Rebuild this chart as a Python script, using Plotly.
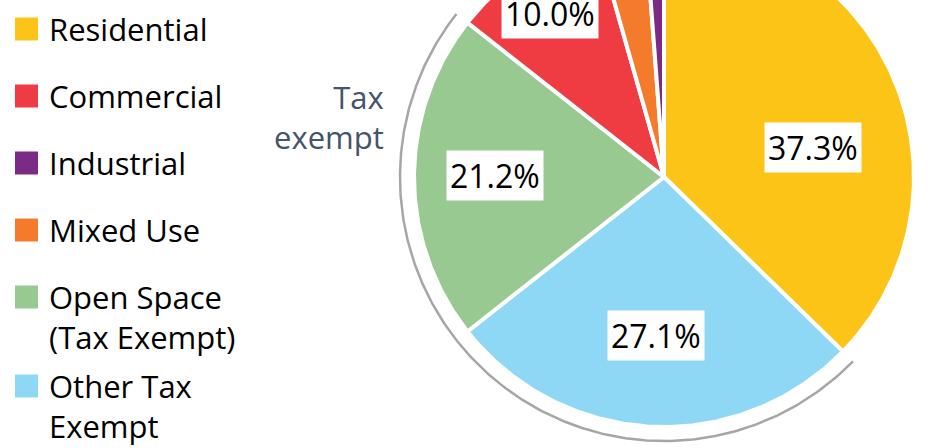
import numpy as np
import plotly.graph_objects as go

# ---- data ----
categories = ["Residential", "Commercial", "Industrial", "Mixed Use",
              "Open Space (Tax Exempt)", "Other Tax Exempt"]
values = [37.3, 10.0, 1.2, 3.2, 21.2, 27.1]
legend_labels = ["Residential", "Commercial", "Industrial", "Mixed Use",
                 "Open Space<br>(Tax Exempt)", "Other Tax<br>Exempt"]
# clockwise drawing order starting at 12 o'clock
slice_order = ["Residential", "Other Tax Exempt", "Open Space (Tax Exempt)",
               "Commercial", "Mixed Use", "Industrial"]
tax_exempt = ["Other Tax Exempt", "Open Space (Tax Exempt)"]
bracket_text = "Tax<br>exempt"

# ---- style ----
colors = {
    "Residential": "#FDC418",
    "Commercial": "#EF3B42",
    "Industrial": "#7B2A85",
    "Mixed Use": "#F47A2C",
    "Open Space (Tax Exempt)": "#98C991",
    "Other Tax Exempt": "#8ED8F6",
}
# label placement: (radius fraction, angular nudge in degrees)
label_place = {
    "Residential": (0.61, 11.7),
    "Other Tax Exempt": (0.637, 0.0),
    "Open Space (Tax Exempt)": (0.677, 0.4),
    "Commercial": (0.80, -0.9),
}
FONT = "Open Sans"
LEG_SIZE = 31
W, H = 932, 448
cx, cy, R = 664, 177, 250
R_arc = 264

val = dict(zip(categories, values))
total = sum(values)


def pt(r, theta_deg):
    t = np.radians(theta_deg)
    return cx + r * np.sin(t), cy - r * np.cos(t)


fig = go.Figure()
angles = {}
start = 0.0
for name in slice_order:
    span = val[name] / total * 360.0
    angles[name] = (start, start + span)
    th = np.linspace(start, start + span, max(3, int(span * 3)))
    xs, ys = pt(R, th)
    x = np.concatenate([[cx], xs, [cx]])
    y = np.concatenate([[cy], ys, [cy]])
    fig.add_trace(go.Scatter(
        x=x, y=y, mode="lines", fill="toself", fillcolor=colors[name],
        line=dict(color="white", width=4), hoverinfo="skip", name=name,
        showlegend=False))
    start += span

# tax exempt bracket arc
a0 = min(angles[n][0] for n in tax_exempt)
a1 = max(angles[n][1] for n in tax_exempt)
th = np.linspace(a0, a1, 300)
xs, ys = pt(R_arc, th)
fig.add_trace(go.Scatter(x=xs, y=ys, mode="lines",
                         line=dict(color="#A6A6A6", width=2.5),
                         hoverinfo="skip", showlegend=False))

annotations = []
# percent labels
for name, (f, nudge) in label_place.items():
    s, e = angles[name]
    lx, ly = pt(f * 249, (s + e) / 2 + nudge)
    annotations.append(dict(
        x=lx, y=ly, xref="x", yref="y", text=f"{val[name]:.1f}%",
        showarrow=False, bgcolor="white", borderpad=3,
        font=dict(family=FONT, size=32, color="black"),
        xanchor="center", yanchor="middle"))

# "Tax exempt" note
annotations.append(dict(
    x=386, y=117, xref="x", yref="y", text=bracket_text, showarrow=False,
    xanchor="right", yanchor="middle", align="right",
    font=dict(family=FONT, size=31, color="#44546A")))

# legend
shapes = []
sq = 29
line_h = 1.3 * LEG_SIZE
for name, lab in zip(categories, legend_labels):
    nlines = lab.count("<br>") + 1
    shapes.append(dict(type="rect", xref="x", yref="y", x0=15, x1=38,
                       y0=sq - 11.5, y1=sq + 11.5, fillcolor=colors[name],
                       line=dict(width=0)))
    annotations.append(dict(
        x=47, y=sq + (nlines - 1) * line_h / 2, xref="x", yref="y", text=lab,
        showarrow=False, xanchor="left", yanchor="middle", align="left",
        font=dict(family=FONT, size=LEG_SIZE, color="black")))
    sq += 67 + 22 * (nlines - 1)

fig.update_layout(
    width=W, height=H, margin=dict(l=0, r=0, t=0, b=0),
    paper_bgcolor="white", plot_bgcolor="white",
    xaxis=dict(range=[0, W], visible=False, fixedrange=True),
    yaxis=dict(range=[H, 0], visible=False, fixedrange=True),
    annotations=annotations, shapes=shapes, showlegend=False,
)
fig.write_html("out.html")
